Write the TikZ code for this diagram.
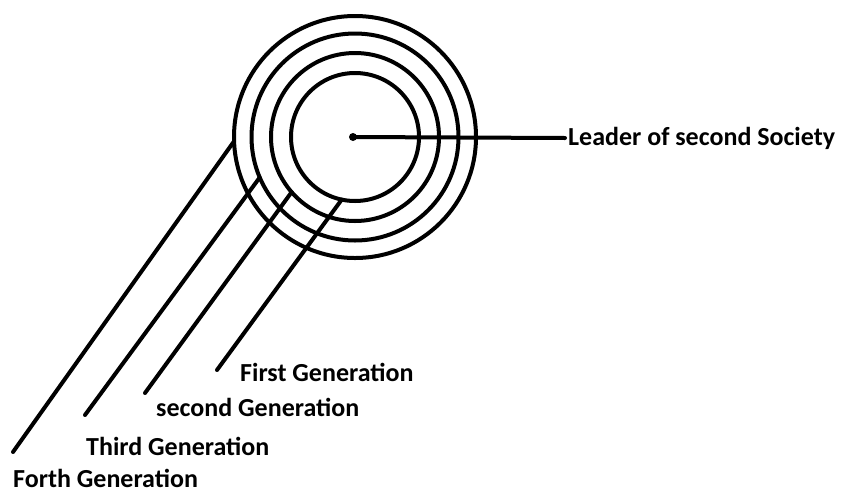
\documentclass[tikz,border=0pt]{standalone}
\usepackage{fontspec}
\setmainfont{Carlito}
\begin{document}
\begin{tikzpicture}[x=1pt,y=-1pt,line cap=round]
  % Styles
  \tikzstyle{ring}=[draw,circle,line width=4pt,inner sep=0pt,outer sep=0pt]
  \tikzstyle{important line}=[line width=4pt]
  \tikzstyle{label text}=[anchor=west,inner xsep=3pt,inner ysep=0pt,
    font=\bfseries\fontsize{26}{30}\selectfont]

  \useasboundingbox (0,0) rectangle (850,493);

  % The rings, one per generation
  \node[ring,minimum size=242pt] (forth)  at (355,137) {};
  \node[ring,minimum size=207pt] (third)  at (355,137) {};
  \node[ring,minimum size=168pt] (second) at (355,137) {};
  \node[ring,minimum size=128pt] (first)  at (355,137) {};

  % The leader in the middle
  \node[circle,fill,inner sep=0pt,minimum size=8pt] (leader) at (353,137) {};
  \node[label text] (leader text) at (565,138) {Leader of second Society};
  \draw[important line] (leader.center) -- (leader text.west);

  % Free ends of the generation lines
  \coordinate (forth end)  at (13,452);
  \coordinate (third end)  at (85,415);
  \coordinate (second end) at (145,393);
  \coordinate (first end)  at (217,370);

  \draw[important line] (forth.182)  -- (forth end);
  \draw[important line] (third.203)  -- (third end);
  \draw[important line] (second.221) -- (second end);
  \draw[important line] (first.258)  -- (first end);

  % Labels
  \node[label text] (first text)  at (237,372) {First Generation};
  \node[label text] (second text) at (153,407) {second Generation};
  \node[label text] (third text)  at (83,446)  {Third Generation};
  \node[label text] (forth text)  at (10,478)  {Forth Generation};
\end{tikzpicture}
\end{document}
